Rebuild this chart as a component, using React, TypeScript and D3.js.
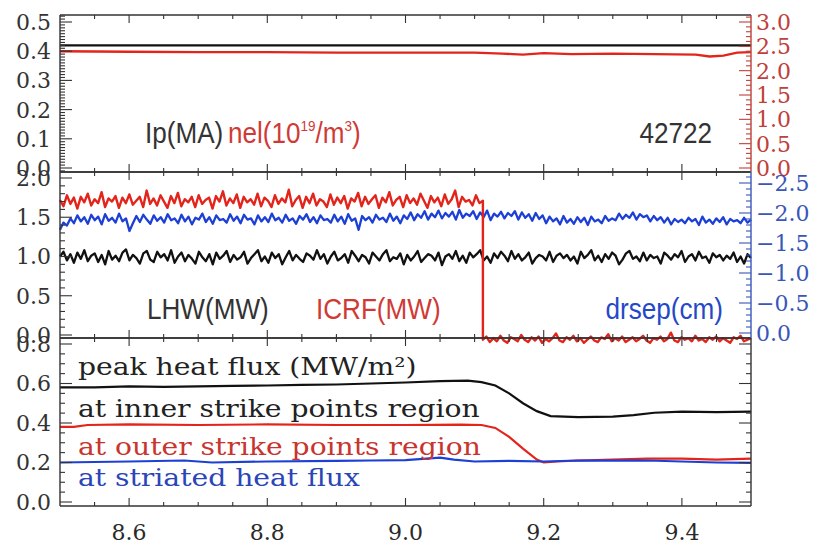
import React from "react";
import * as d3 from "d3";

const W = 819;
const H = 545;
const X0 = 60;
const X1 = 751;
const PANEL_TOP: [number, number] = [15, 172];
const PANEL_MID: [number, number] = [172, 338];
const PANEL_BOT: [number, number] = [338, 506];

const xDomain: [number, number] = [8.5, 9.5];
const xMajorTicks = [8.6, 8.8, 9.0, 9.2, 9.4];
const xTickLabels = ["8.6", "8.8", "9.0", "9.2", "9.4"];

// ---- panel 1: plasma current and line-averaged density
const ipTimes = [8.5, 9.5];
const ipValues = [0.42, 0.42];
const nelTimes = [8.5, 8.6, 8.7, 8.8, 8.9, 9.0, 9.1, 9.14, 9.17, 9.2, 9.24, 9.3, 9.36, 9.42, 9.44, 9.46, 9.48, 9.5];
const nelValues = [2.4, 2.39, 2.38, 2.38, 2.37, 2.37, 2.37, 2.35, 2.33, 2.36, 2.34, 2.35, 2.34, 2.33, 2.29, 2.31, 2.37, 2.38];

// ---- panel 2: heating powers and separatrix distance (sampled signals, in hundredths)
const icrfOnSpan: [number, number] = [8.5, 9.112];
const icrfOn = [172, 164, 178, 167, 175, 161, 176, 169, 180, 165, 173, 168, 182, 163, 174, 170, 177, 162, 175, 168, 179, 166, 171, 176, 163, 184, 167, 174, 165, 178, 170, 162, 177, 168, 181, 164, 173, 169, 176, 163, 178, 167, 172, 175, 161, 177, 170, 183, 165, 174, 168, 179, 162, 176, 169, 173, 166, 180, 164, 175, 171, 163, 178, 167, 174, 169, 185, 164, 172, 177, 162, 176, 168, 180, 165, 173, 170, 163, 179, 166, 175, 168, 177, 161, 174, 170, 181, 164, 176, 167, 173, 178, 162, 175, 169, 182, 165, 172, 176, 163, 178, 168, 174, 166, 180, 171, 162, 177, 169, 175, 164, 179, 167, 173, 184, 163, 176, 170, 172, 165, 178, 168, 171];
const icrfOffSpan: [number, number] = [9.112, 9.5];
const icrfOff = [-6, -2, -9, -4, -8, -1, -7, -10, -3, -5, -8, 0, -6, -9, -3, -7, -2, -10, -5, -8, -4, 2, -7, -9, -3, -6, -1, -8, -4, -10, -6, -2, -7, -9, -3, -5, 1, -8, -4, -7, -2, -9, -6, -3, -8, -5, -1, -7, -10, -4, -6, -2, -8, -5, 3, -7, -9, -3, -6, -4, -8, -1, -7, -5, -9, -3, -6, -2, -8, -4, -7, -10, -3, -5, -1, -8, -6, -4];
const lhwSpan: [number, number] = [8.5, 9.5];
const lhw = [
  100, 106, 95, 103, 92, 105, 97, 108, 94, 101, 104, 93, 102, 90, 107, 96, 101, 94, 105, 109,
  95, 102, 98, 91, 104, 107, 96, 93, 106, 99, 103, 95, 108, 92, 100, 105, 94, 102, 97, 91,
  106, 99, 94, 103, 90, 105, 97, 101, 107, 93, 102, 96, 99, 106, 91, 98, 103, 108, 94, 100,
  92, 105, 98, 103, 90, 99, 107, 95, 102, 97, 93, 104, 101, 96, 108, 97, 103, 91, 100, 106,
  95, 98, 103, 92, 107, 101, 94, 102, 99, 91, 105, 100, 95, 103, 108, 94, 99, 97, 104, 90,
  102, 95, 100, 107, 93, 98, 103, 101, 95, 105, 89, 100, 103, 97, 107, 94, 101, 92, 105, 99,
  103, 108, 95, 100, 92, 104, 98, 106, 101, 94, 107, 97, 103, 95, 99, 105, 91, 98, 102, 100,
  95, 106, 93, 101, 104, 98, 102, 95, 100, 91, 106, 98, 102, 108, 95, 101, 93, 103, 97, 105,
  101, 90, 96, 104, 107, 97, 100, 94, 105, 95, 102, 98, 100, 91, 105, 101, 96, 103, 99, 107,
  93, 100, 103, 95, 106, 98, 100, 92, 104, 99, 102, 95, 101, 97, 105, 93, 100, 91, 103, 98,
];
const drsepSpan: [number, number] = [8.5, 9.5];
const drsep = [
  -172, -184, -179, -191, -183, -196, -186, -193, -182, -197, -188, -194, -181, -198, -187, -192, -184, -199, -186, -191,
  -170, -183, -195, -185, -197, -189, -182, -196, -187, -193, -184, -198, -188, -191, -183, -197, -186, -194, -181, -192,
  -189, -199, -185, -193, -182, -196, -188, -190, -184, -198, -187, -194, -183, -197, -189, -191, -181, -196, -186, -193,
  -185, -199, -188, -192, -184, -197, -187, -191, -182, -195, -189, -198, -185, -193, -183, -196, -188, -190, -184, -197,
  -186, -194, -182, -198, -187, -191, -172, -195, -188, -193, -184, -197, -189, -192, -185, -199, -187, -194, -183, -196,
  -190, -201, -188, -198, -192, -203, -189, -199, -193, -204, -191, -200, -194, -202, -189, -205, -192, -199, -195, -203,
  -190, -201, -193, -204, -188, -199, -194, -202, -191, -200, -195, -203, -189, -201, -192, -198, -187, -200, -190, -196,
  -183, -194, -186, -191, -181, -195, -184, -190, -182, -193, -185, -192, -180, -194, -186, -189, -183, -195, -187, -191,
  -188, -199, -190, -197, -192, -201, -189, -198, -193, -196, -186, -195, -188, -193, -184, -192, -181, -190, -185, -189,
  -183, -192, -186, -190, -180, -194, -184, -189, -182, -191, -185, -193, -181, -190, -186, -188, -183, -192, -184, -189,
];

// ---- panel 3: peak heat flux (MW/m^2)
const innerTimes = [8.5, 8.55, 8.6, 8.65, 8.7, 8.75, 8.8, 8.85, 8.9, 8.95, 9.0, 9.05, 9.09, 9.11, 9.13, 9.15, 9.17, 9.19, 9.21, 9.25, 9.3, 9.33, 9.36, 9.4, 9.45, 9.5];
const innerValues = [0.58, 0.58, 0.585, 0.583, 0.585, 0.588, 0.59, 0.593, 0.595, 0.6, 0.605, 0.612, 0.615, 0.607, 0.59, 0.55, 0.5, 0.46, 0.435, 0.43, 0.432, 0.44, 0.452, 0.458, 0.455, 0.458];
const outerTimes = [8.5, 8.52, 8.54, 8.6, 8.7, 8.8, 8.9, 9.0, 9.08, 9.11, 9.13, 9.15, 9.17, 9.19, 9.2, 9.22, 9.25, 9.3, 9.35, 9.4, 9.45, 9.5];
const outerValues = [0.38, 0.38, 0.39, 0.393, 0.39, 0.393, 0.39, 0.39, 0.392, 0.39, 0.375, 0.33, 0.27, 0.215, 0.2, 0.205, 0.21, 0.215, 0.22, 0.22, 0.215, 0.22];
const striatedTimes = [8.5, 8.6, 8.68, 8.72, 8.8, 8.9, 8.95, 9.0, 9.05, 9.07, 9.1, 9.15, 9.2, 9.25, 9.3, 9.35, 9.4, 9.45, 9.5];
const striatedValues = [0.2, 0.205, 0.21, 0.2, 0.205, 0.208, 0.21, 0.212, 0.225, 0.215, 0.205, 0.208, 0.205, 0.21, 0.21, 0.21, 0.205, 0.2, 0.198];

const RED = "#e3241b";
const BLUE = "#1c3fd6";
const BLACK = "#111111";
const AXIS = "#333333";
const SERIF = "'DejaVu Serif', serif";
const SANS = "'Liberation Sans', Arial, sans-serif";

type Pt = [number, number];
const zip = (ts: number[], vs: number[]): Pt[] => ts.map((t, i) => [t, vs[i]]);
const sampled = (span: [number, number], vs: number[], scale = 100): Pt[] =>
  vs.map((v, i) => [span[0] + (i * (span[1] - span[0])) / (vs.length - 1), v / scale]);
const steps = (a: number, b: number, s: number) => {
  const out: number[] = [];
  const n = Math.round((b - a) / s);
  for (let i = 0; i <= n; i++) out.push(+(a + i * s).toFixed(4));
  return out;
};

const x = d3.scaleLinear().domain(xDomain).range([X0, X1]);
const yTopL = d3.scaleLinear().domain([0, 0.5]).range([168, 22]);
const yTopR = d3.scaleLinear().domain([0, 3]).range([168, 22]);
const yMidL = d3.scaleLinear().domain([0, 2]).range([335, 178]);
const yMidR = d3.scaleLinear().domain([0, -2.5]).range([333, 183]);
const yBot = d3.scaleLinear().domain([0, 0.8]).range([502, 344]);

function pathFor(pts: Pt[], y: d3.ScaleLinear<number, number>) {
  return d3
    .line<Pt>()
    .x((d) => x(d[0]))
    .y((d) => y(d[1]))(pts) as string;
}

// text stretched horizontally (sx) around its starting point
function Label({
  x: tx, y: ty, sx = 1, size, family, fill, children, anchor = "start",
}: {
  x: number; y: number; sx?: number; size: number; family: string; fill: string;
  children: React.ReactNode; anchor?: "start" | "end" | "middle";
}) {
  return (
    <g transform={`translate(${tx},${ty}) scale(${sx},1)`}>
      <text x={0} y={0} fontFamily={family} fontSize={size} fill={fill} textAnchor={anchor}>
        {children}
      </text>
    </g>
  );
}

function YTicks({
  y, panel, minor, major, side, color, labels,
}: {
  y: d3.ScaleLinear<number, number>;
  panel: [number, number];
  minor: number;
  major: number;
  side: "left" | "right";
  color: string;
  labels?: { v: number; text: string }[];
}) {
  const lo = y.invert(panel[1]);
  const hi = y.invert(panel[0]);
  const a = Math.min(lo, hi);
  const b = Math.max(lo, hi);
  const vals = steps(Math.ceil(a / minor - 1e-6) * minor, Math.floor(b / minor + 1e-6) * minor, minor);
  const x0 = side === "left" ? X0 : X1;
  const dir = side === "left" ? 1 : -1;
  return (
    <g>
      {vals.map((v, i) => {
        const isMajor = Math.abs(v / major - Math.round(v / major)) < 1e-6;
        const len = isMajor ? 12 : 5;
        const yy = y(v);
        if (yy < panel[0] + 0.5 || yy > panel[1] - 0.5) return null;
        return <line key={i} x1={x0} x2={x0 + dir * len} y1={yy} y2={yy} stroke={color} strokeWidth={1.1} />;
      })}
      {labels &&
        labels.map((l, i) => (
          <text
            key={"l" + i}
            x={side === "left" ? X0 - 9 : X1 + 5}
            y={y(l.v)}
            dy="0.36em"
            textAnchor={side === "left" ? "end" : "start"}
            fontFamily={SERIF}
            fontSize={22}
            fill={color}
          >
            {l.text}
          </text>
        ))}
    </g>
  );
}

function XTicks({ panel }: { panel: [number, number] }) {
  const vals = steps(8.5, 9.5, 0.05);
  return (
    <g>
      {vals.map((v, i) => {
        const isMajor = xMajorTicks.some((m) => Math.abs(m - v) < 1e-6);
        const len = isMajor ? 8 : 4;
        const xx = x(v);
        if (xx <= X0 + 0.5 || xx >= X1 - 0.5) return null;
        return (
          <g key={i}>
            <line x1={xx} x2={xx} y1={panel[1]} y2={panel[1] - len} stroke={AXIS} strokeWidth={1.1} />
            <line x1={xx} x2={xx} y1={panel[0]} y2={panel[0] + len} stroke={AXIS} strokeWidth={1.1} />
          </g>
        );
      })}
    </g>
  );
}

const fmt1 = (v: number) => v.toFixed(1);
const SANS_SIZE = 29;
const SANS_SX = 0.9;
const SERIF_SIZE = 23.5;
const SERIF_SX = 1.2;

export default function App() {
  const icrfPts = [...sampled(icrfOnSpan, icrfOn), ...sampled(icrfOffSpan, icrfOff)];
  return (
    <svg width={W} height={H} style={{ position: "absolute", left: 0, top: 0, background: "#fff" }}>
      <rect x={0} y={0} width={W} height={H} fill="#fff" />

      {/* panel 1 */}
      <path d={pathFor(zip(ipTimes, ipValues), yTopL)} fill="none" stroke={BLACK} strokeWidth={2.4} />
      <path d={pathFor(zip(nelTimes, nelValues), yTopR)} fill="none" stroke={RED} strokeWidth={2.4} />
      <Label x={145} y={143} sx={SANS_SX} size={SANS_SIZE} family={SANS} fill="#333">Ip(MA)</Label>
      <Label x={228} y={143} sx={SANS_SX} size={SANS_SIZE} family={SANS} fill="#d03a35">
        nel(10<tspan fontSize={15} dy={-12}>19</tspan>
        <tspan dy={12}>/m</tspan>
        <tspan fontSize={15} dy={-12}>3</tspan>
        <tspan dy={12}>)</tspan>
      </Label>
      <Label x={712} y={143} sx={SANS_SX} size={SANS_SIZE} family={SANS} fill="#333" anchor="end">42722</Label>

      {/* panel 2 */}
      <g strokeLinejoin="round" fill="none">
        <path d={pathFor(sampled(lhwSpan, lhw), yMidL)} stroke={BLACK} strokeWidth={2.3} />
        <path d={pathFor(sampled(drsepSpan, drsep), yMidR)} stroke={BLUE} strokeWidth={2.3} />
        <path d={pathFor(icrfPts, yMidL)} stroke={RED} strokeWidth={2.4} />
      </g>
      <Label x={147} y={319} sx={SANS_SX} size={SANS_SIZE} family={SANS} fill="#333">LHW(MW)</Label>
      <Label x={316} y={319} sx={SANS_SX} size={SANS_SIZE} family={SANS} fill="#d03a35">ICRF(MW)</Label>
      <Label x={723} y={319} sx={SANS_SX} size={SANS_SIZE} family={SANS} fill="#2448c8" anchor="end">drsep(cm)</Label>

      {/* panel 3 */}
      <path d={pathFor(zip(innerTimes, innerValues), yBot)} fill="none" stroke={BLACK} strokeWidth={2.2} />
      <path d={pathFor(zip(outerTimes, outerValues), yBot)} fill="none" stroke={RED} strokeWidth={2.2} />
      <path d={pathFor(zip(striatedTimes, striatedValues), yBot)} fill="none" stroke={BLUE} strokeWidth={2.2} />
      <Label x={78} y={375} sx={SERIF_SX} size={SERIF_SIZE} family={SERIF} fill="#222">peak heat flux (MW/m²)</Label>
      <Label x={78} y={417} sx={SERIF_SX} size={SERIF_SIZE} family={SERIF} fill="#222">at inner strike points region</Label>
      <Label x={78} y={455} sx={SERIF_SX} size={SERIF_SIZE} family={SERIF} fill="#c8352f">at outer strike points region</Label>
      <Label x={78} y={486} sx={SERIF_SX} size={SERIF_SIZE} family={SERIF} fill="#2a45b8">at striated heat flux</Label>

      {/* frames */}
      {[PANEL_TOP, PANEL_MID, PANEL_BOT].map((p, i) => (
        <g key={i}>
          <line x1={X0} x2={X1} y1={p[0]} y2={p[0]} stroke={AXIS} strokeWidth={1.4} />
          <line x1={X0} x2={X1} y1={p[1]} y2={p[1]} stroke={AXIS} strokeWidth={1.4} />
          <line x1={X0} x2={X0} y1={p[0]} y2={p[1]} stroke={AXIS} strokeWidth={1.4} />
          <XTicks panel={p} />
        </g>
      ))}
      <line x1={X1} x2={X1} y1={PANEL_TOP[0]} y2={PANEL_TOP[1]} stroke="#b8403a" strokeWidth={1.4} />
      <line x1={X1} x2={X1} y1={PANEL_MID[0]} y2={PANEL_MID[1]} stroke="#3a56b8" strokeWidth={1.4} />
      <line x1={X1} x2={X1} y1={PANEL_BOT[0]} y2={PANEL_BOT[1]} stroke={AXIS} strokeWidth={1.4} />

      {/* y axes */}
      <YTicks y={yTopL} panel={PANEL_TOP} minor={0.01} major={0.1} side="left" color={AXIS}
        labels={[0, 0.1, 0.2, 0.3, 0.4, 0.5].map((v) => ({ v, text: fmt1(v) }))} />
      <YTicks y={yTopR} panel={PANEL_TOP} minor={0.1} major={0.5} side="right" color="#c0403a"
        labels={[0, 0.5, 1, 1.5, 2, 2.5, 3].map((v) => ({ v, text: fmt1(v) }))} />
      <YTicks y={yMidL} panel={PANEL_MID} minor={0.1} major={0.5} side="left" color={AXIS}
        labels={[0, 0.5, 1, 1.5, 2].map((v) => ({ v, text: fmt1(v) }))} />
      <YTicks y={yMidR} panel={PANEL_MID} minor={0.1} major={0.5} side="right" color="#3a56b8"
        labels={[0, -0.5, -1, -1.5, -2, -2.5].map((v) => ({ v, text: v === 0 ? "0.0" : "−" + fmt1(-v) }))} />
      <YTicks y={yBot} panel={PANEL_BOT} minor={0.05} major={0.2} side="left" color={AXIS}
        labels={[0, 0.2, 0.4, 0.6, 0.8].map((v) => ({ v, text: fmt1(v) }))} />
      <YTicks y={yBot} panel={PANEL_BOT} minor={0.05} major={0.2} side="right" color={AXIS} />

      {/* x labels */}
      {xMajorTicks.map((t, i) => (
        <text key={i} x={x(t)} y={540} textAnchor="middle" fontFamily={SERIF} fontSize={22} fill="#2a2a2a">
          {xTickLabels[i]}
        </text>
      ))}
    </svg>
  );
}
